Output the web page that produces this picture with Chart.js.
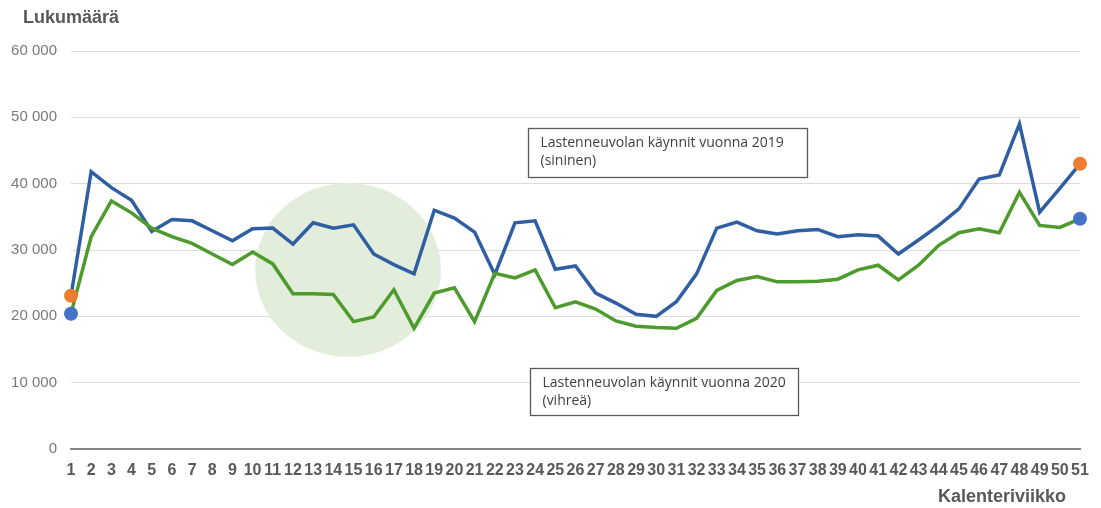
<!DOCTYPE html>
<html>
<head>
<meta charset="utf-8">
<script src="https://cdn.jsdelivr.net/npm/chart.js@4.4.1/dist/chart.umd.min.js"></script>
<style>
  html, body { margin: 0; padding: 0; background: #fff; }
  #wrap { width: 1101px; height: 508px; position: relative; }
</style>
</head>
<body>
<div id="wrap"><canvas id="chart"></canvas></div>
<script>
// kalenteriviikot
const weeks = ['1','2','3','4','5','6','7','8','9','10','11','12','13','14','15','16','17','18','19','20',
  '21','22','23','24','25','26','27','28','29','30','31','32','33','34','35','36','37','38','39','40',
  '41','42','43','44','45','46','47','48','49','50','51'];

// lastenneuvolan käynnit 2019 (sininen)
const visits2019 = [23100, 41800, 39400, 37500, 32800, 34600, 34400, 32900, 31400, 33200,
  33300, 30900, 34100, 33300, 33800, 29400, 27800, 26400, 36000, 34800,
  32700, 26300, 34100, 34400, 27100, 27600, 23500, 22000, 20300, 20000,
  22200, 26400, 33300, 34200, 32900, 32400, 32900, 33100, 32000, 32300,
  32100, 29400, 31500, 33700, 36200, 40700, 41300, 49000, 35700, 39300, 43000];

// lastenneuvolan käynnit 2020 (vihreä)
const visits2020 = [20400, 32000, 37400, 35600, 33300, 32000, 31000, 29400, 27800, 29700,
  27900, 23400, 23400, 23300, 19200, 19900, 24000, 18200, 23500, 24300,
  19200, 26500, 25800, 27000, 21300, 22200, 21100, 19300, 18500, 18300,
  18200, 19700, 23900, 25400, 26000, 25200, 25200, 25300, 25600, 27000,
  27700, 25500, 27700, 30700, 32600, 33200, 32600, 38700, 33700, 33400, 34700];

// päätepisteiden merkit
const orangeDots = [{x: '1', y: 23100}, {x: '51', y: 43000}];
const blueDots = [{x: '1', y: 20400}, {x: '51', y: 34700}];

const yTicks = [0, 10000, 20000, 30000, 40000, 50000, 60000];

const notes = [
  {lines: ['Lastenneuvolan käynnit vuonna 2019', '(sininen)'], idx: 22.65, val: 48400},
  {lines: ['Lastenneuvolan käynnit vuonna 2020', '(vihreä)'], idx: 22.75, val: 12200}
];
const noteSize = [{w: 279, h: 49}, {w: 268, h: 47}];

function fmt(n) { return String(n).replace(/\B(?=(\d{3})+(?!\d))/g, ' '); }

const extras = {
  id: 'extras',
  beforeDatasetsDraw(chart) {
    const {ctx, scales: {x, y}} = chart;
    // vaaleanvihreä korostus viikoilla ~10-19
    const cx = x.getPixelForValue(13.73), cy = y.getPixelForValue(27000);
    const rx = x.getPixelForValue(13.73 + 4.6) - cx;
    const ry = cy - y.getPixelForValue(27000 + 13100);
    ctx.save();
    ctx.fillStyle = '#e2eedb';
    ctx.beginPath();
    ctx.ellipse(cx, cy, rx, ry, 0, 0, Math.PI * 2);
    ctx.fill();
    ctx.restore();
  },
  afterDraw(chart) {
    const {ctx, scales: {x, y}} = chart;
    ctx.save();
    ctx.fillStyle = '#595959';
    ctx.font = 'bold 18px "Liberation Sans", Arial, sans-serif';
    ctx.textBaseline = 'middle';
    ctx.textAlign = 'left';
    ctx.fillText('Lukumäärä', 23, 18);
    ctx.textAlign = 'right';
    ctx.fillText('Kalenteriviikko', 1066, 497);

    notes.forEach((n, i) => {
      const left = Math.round(x.getPixelForValue(n.idx)) + 0.5;
      const top = Math.round(y.getPixelForValue(n.val)) + 0.5;
      const s = noteSize[i];
      ctx.fillStyle = '#fff';
      ctx.fillRect(left, top, s.w, s.h);
      ctx.strokeStyle = '#595959';
      ctx.lineWidth = 1.3;
      ctx.strokeRect(left, top, s.w, s.h);
      ctx.fillStyle = '#404040';
      ctx.font = '14px "Open Sans", sans-serif';
      ctx.textAlign = 'left';
      ctx.fillText(n.lines[0], left + 12, top + 15);
      ctx.fillText(n.lines[1], left + 12, top + 33);
    });
    ctx.restore();
  }
};

new Chart(document.getElementById('chart'), {
  type: 'line',
  data: {
    labels: weeks,
    datasets: [
      { data: orangeDots, showLine: false, pointRadius: 7, pointBackgroundColor: '#ed7d31', pointBorderWidth: 0, order: 0 },
      { data: blueDots, showLine: false, pointRadius: 7, pointBackgroundColor: '#4472c4', pointBorderWidth: 0, order: 0 },
      { label: '2019', data: visits2019, borderColor: '#2f5ea3', borderWidth: 3.5, pointRadius: 0, tension: 0, order: 2 },
      { label: '2020', data: visits2020, borderColor: '#4d9b2c', borderWidth: 3.5, pointRadius: 0, tension: 0, order: 1 }
    ]
  },
  options: {
    responsive: true,
    maintainAspectRatio: false,
    animation: false,
    layout: { padding: { top: 51, right: 21, left: 0, bottom: 0 } },
    plugins: { legend: { display: false }, tooltip: { enabled: false } },
    scales: {
      x: {
        offset: false,
        grid: { display: false },
        border: { display: true, color: '#878787', width: 2 },
        ticks: {
          autoSkip: false, maxRotation: 0, padding: 4, color: '#595959',
          font: { family: '"Liberation Sans", Arial, sans-serif', size: 16, weight: 'bold' }
        },
        afterFit(s) { s.height = 59; }
      },
      y: {
        min: 0, max: 60000,
        afterBuildTicks(s) { s.ticks = yTicks.map(v => ({value: v})); },
        grid: { color: '#dcdcdc', lineWidth: 1, drawTicks: false },
        border: { display: false },
        ticks: {
          padding: 14, color: '#7a7a7a',
          font: { family: '"Liberation Sans", Arial, sans-serif', size: 15 },
          callback: v => fmt(v)
        },
        afterFit(s) { s.width = 71; }
      }
    }
  },
  plugins: [extras]
});
</script>
</body>
</html>
